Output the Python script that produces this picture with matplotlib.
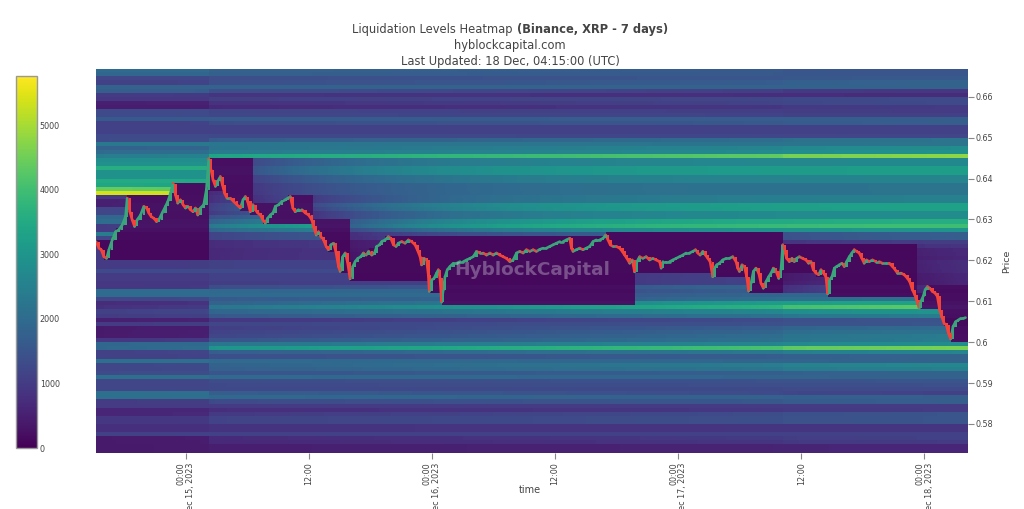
import numpy as np
import matplotlib
matplotlib.use("Agg")
import matplotlib.pyplot as plt
from matplotlib.colors import Normalize
from matplotlib.collections import LineCollection
from datetime import datetime, timedelta

# ---------------- data ----------------
# candle times (hours after 2023-12-15 00:00 UTC) and closes, XRP/USDT
price_hours = [
    -8.75, -8.46, -8.24, -7.98, -7.72, -7.49, -7.17, -6.84, -6.52, -6.19,
    -5.87, -5.71, -5.45, -5.22, -4.99, -4.74, -4.41, -4.09, -3.82, -3.60,
    -3.37, -3.11, -2.85, -2.63, -2.30, -1.98, -1.75, -1.49, -1.24, -1.00,
    -0.78, -0.52, -0.26, -0.03, 0.19, 0.46, 0.71, 0.94, 1.17, 1.43,
    1.75, 2.01, 2.24, 2.46, 2.66, 2.89, 3.11, 3.37, 3.57, 3.79,
    4.02, 4.35, 4.67, 4.99, 5.32, 5.58, 5.81, 6.03, 6.29, 6.55,
    6.78, 7.01, 7.27, 7.52, 7.75, 7.98, 8.24, 8.50, 8.73, 9.05,
    9.37, 9.70, 9.95, 10.19, 10.44, 10.67, 11.00, 11.32, 11.65, 11.97,
    12.29, 12.45, 12.72, 12.94, 13.17, 13.43, 13.69, 13.91, 14.14, 14.40,
    14.63, 14.89, 15.05, 15.30, 15.54, 15.76, 16.02, 16.28, 16.51, 16.77,
    17.06, 17.32, 17.58, 17.83, 18.13, 18.39, 18.61, 18.88, 19.10, 19.43,
    19.75, 19.98, 20.24, 20.50, 20.72, 21.05, 21.38, 21.70, 22.02, 22.35,
    22.57, 22.84, 22.99, 23.22, 23.48, 23.64, 23.74, 23.97, 24.20, 24.45,
    24.62, 24.78, 24.94, 25.10, 25.27, 25.49, 25.75, 26.08, 26.40, 26.73,
    27.05, 27.37, 27.70, 28.02, 28.34, 28.67, 28.99, 29.32, 29.65, 29.97,
    30.29, 30.62, 30.94, 31.26, 31.59, 31.91, 32.24, 32.56, 32.89, 33.21,
    33.54, 33.86, 34.18, 34.51, 34.83, 35.15, 35.48, 35.80, 36.13, 36.46,
    36.78, 37.10, 37.43, 37.59, 37.75, 38.07, 38.40, 38.72, 39.05, 39.37,
    39.70, 40.02, 40.35, 40.67, 40.93, 41.16, 41.38, 41.64, 41.97, 42.29,
    42.55, 42.78, 43.00, 43.27, 43.52, 43.75, 43.98, 44.24, 44.56, 44.88,
    45.21, 45.53, 45.86, 46.19, 46.34, 46.51, 46.83, 47.16, 47.48, 47.80,
    48.13, 48.45, 48.77, 49.10, 49.43, 49.69, 49.91, 50.14, 50.40, 50.66,
    50.89, 51.11, 51.37, 51.53, 51.76, 52.02, 52.34, 52.67, 52.99, 53.32,
    53.64, 53.80, 53.97, 54.22, 54.45, 54.68, 54.87, 55.10, 55.33, 55.58,
    55.85, 56.07, 56.30, 56.56, 56.82, 57.05, 57.28, 57.54, 57.80, 58.02,
    58.19, 58.35, 58.57, 58.84, 59.09, 59.32, 59.55, 59.81, 60.13, 60.46,
    60.71, 60.94, 61.17, 61.43, 61.69, 61.92, 62.15, 62.40, 62.57, 62.73,
    62.99, 63.22, 63.45, 63.70, 63.96, 64.19, 64.42, 64.68, 64.93, 65.16,
    65.39, 65.65, 65.90, 66.13, 66.36, 66.62, 66.94, 67.26, 67.59, 67.91,
    68.24, 68.57, 68.89, 69.15, 69.37, 69.70, 70.03, 70.35, 70.57, 70.83,
    71.06, 71.25, 71.49, 71.64, 71.88, 72.07, 72.30, 72.52, 72.78, 73.04,
    73.26, 73.49, 73.68, 73.92, 74.14, 74.34, 74.56, 74.79, 75.04, 75.30,
    75.53, 75.76, 76.01,
]
price_close = [
    0.6246, 0.6230, 0.6226, 0.6209, 0.6205, 0.6226, 0.6250, 0.6270, 0.6275, 0.6287,
    0.6307, 0.6352, 0.6319, 0.6299, 0.6283, 0.6299, 0.6311, 0.6332, 0.6328, 0.6316,
    0.6307, 0.6303, 0.6295, 0.6299, 0.6316, 0.6332, 0.6344, 0.6364, 0.6388, 0.6360,
    0.6340, 0.6348, 0.6336, 0.6328, 0.6332, 0.6324, 0.6319, 0.6328, 0.6311, 0.6328,
    0.6336, 0.6373, 0.6449, 0.6421, 0.6397, 0.6381, 0.6393, 0.6405, 0.6385, 0.6364,
    0.6352, 0.6352, 0.6344, 0.6336, 0.6328, 0.6348, 0.6356, 0.6344, 0.6319, 0.6336,
    0.6324, 0.6316, 0.6311, 0.6299, 0.6291, 0.6303, 0.6311, 0.6316, 0.6332, 0.6336,
    0.6344, 0.6348, 0.6352, 0.6356, 0.6328, 0.6319, 0.6324, 0.6324, 0.6316, 0.6311,
    0.6299, 0.6283, 0.6262, 0.6270, 0.6258, 0.6250, 0.6234, 0.6226, 0.6238, 0.6242,
    0.6222, 0.6185, 0.6173, 0.6209, 0.6218, 0.6197, 0.6155, 0.6185, 0.6197, 0.6205,
    0.6209, 0.6218, 0.6213, 0.6222, 0.6213, 0.6218, 0.6234, 0.6238, 0.6246, 0.6250,
    0.6258, 0.6254, 0.6238, 0.6234, 0.6242, 0.6246, 0.6242, 0.6250, 0.6246, 0.6238,
    0.6226, 0.6209, 0.6189, 0.6205, 0.6201, 0.6165, 0.6124, 0.6152, 0.6156, 0.6169,
    0.6177, 0.6156, 0.6098, 0.6128, 0.6160, 0.6177, 0.6185, 0.6193, 0.6193, 0.6197,
    0.6197, 0.6201, 0.6205, 0.6209, 0.6222, 0.6218, 0.6218, 0.6213, 0.6218, 0.6213,
    0.6218, 0.6213, 0.6209, 0.6205, 0.6197, 0.6201, 0.6218, 0.6222, 0.6218, 0.6226,
    0.6222, 0.6226, 0.6222, 0.6227, 0.6230, 0.6230, 0.6234, 0.6238, 0.6242, 0.6246,
    0.6246, 0.6250, 0.6254, 0.6230, 0.6222, 0.6226, 0.6230, 0.6226, 0.6230, 0.6234,
    0.6246, 0.6250, 0.6250, 0.6254, 0.6262, 0.6250, 0.6238, 0.6234, 0.6234, 0.6230,
    0.6222, 0.6213, 0.6205, 0.6193, 0.6201, 0.6172, 0.6197, 0.6209, 0.6205, 0.6209,
    0.6201, 0.6205, 0.6201, 0.6197, 0.6181, 0.6197, 0.6197, 0.6197, 0.6201, 0.6205,
    0.6209, 0.6213, 0.6218, 0.6218, 0.6222, 0.6226, 0.6218, 0.6213, 0.6222, 0.6213,
    0.6205, 0.6197, 0.6160, 0.6181, 0.6189, 0.6193, 0.6201, 0.6205, 0.6205, 0.6209,
    0.6197, 0.6181, 0.6173, 0.6189, 0.6185, 0.6160, 0.6125, 0.6144, 0.6173, 0.6181,
    0.6169, 0.6144, 0.6132, 0.6148, 0.6160, 0.6169, 0.6181, 0.6173, 0.6156, 0.6177,
    0.6238, 0.6226, 0.6205, 0.6197, 0.6205, 0.6197, 0.6205, 0.6209, 0.6205, 0.6201,
    0.6193, 0.6197, 0.6177, 0.6169, 0.6165, 0.6177, 0.6169, 0.6160, 0.6118, 0.6152,
    0.6160, 0.6181, 0.6185, 0.6189, 0.6193, 0.6185, 0.6197, 0.6209, 0.6218, 0.6226,
    0.6222, 0.6218, 0.6205, 0.6193, 0.6201, 0.6197, 0.6201, 0.6197, 0.6197, 0.6193,
    0.6193, 0.6193, 0.6185, 0.6177, 0.6169, 0.6169, 0.6165, 0.6156, 0.6148, 0.6128,
    0.6116, 0.6103, 0.6083, 0.6099, 0.6112, 0.6128, 0.6136, 0.6132, 0.6124, 0.6120,
    0.6112, 0.6079, 0.6063, 0.6046, 0.6042, 0.6022, 0.6008, 0.6038, 0.6050, 0.6054,
    0.6058, 0.6058, 0.6060,
]

# liquidation price levels: 0.001-wide rows from 0.573 upwards (bottom -> top)
level_bottom = 0.573
level_step = 0.001
# level intensity at the left edge of the window
levels_left = [
    400, 400, 400, 400, 1100, 800, 800, 900, 900, 600,          # 0.5735 ..
    600, 1000, 1000, 2100, 2100, 1200, 1200, 1200, 2100, 1300,  # 0.5835 ..
    1200, 1200, 2100, 1100, 1100, 1900, 1900, 900, 400, 400,    # 0.5935 ..
    400, 1000, 500, 1000, 1100, 800, 700, 1200, 2000, 2000,     # 0.6035 ..
    900, 900, 1000, 1000, 1300, 1000, 1000, 1000, 1000, 1000,   # 0.6135 ..
    1000, 1000, 1200, 2400, 1000, 1000, 2000, 1900, 1200, 1200, # 0.6235 ..
    500, 500, 900, 5400, 4400, 3400, 3500, 2900, 2900, 3600,    # 0.6335 ..
    2900, 2800, 2400, 2000, 1800, 2300, 1300, 1300, 1100, 1100, # 0.6435 ..
    1100, 1600, 1300, 1300, 450, 500, 900, 1000, 1700, 1800,    # 0.6535 ..
    1100, 1200, 1900, 2000,                                     # 0.6635 ..
]
# level intensity at the right edge of the window (18 Dec, 04:15)
levels_right = [
    600, 600, 1000, 1100, 1100, 900, 900, 1500, 1500, 1500,     # 0.5735 ..
    1000, 1000, 1700, 1700, 1100, 1300, 1400, 1500, 1800, 1800, # 0.5835 ..
    2500, 2700, 1800, 1800, 2600, 4600, 2800, 2400, 2400, 2200, # 0.5935 ..
    2000, 1500, 1500, 2400, 3000, 4400, 3400, 2200, 2000, 1800, # 0.6035 ..
    2000, 1200, 1200, 1200, 1300, 1300, 1300, 1000, 1000, 1000, # 0.6135 ..
    1100, 1100, 1800, 1800, 3000, 4000, 3600, 2800, 2800, 3300, # 0.6235 ..
    3300, 2500, 2500, 2200, 2200, 2200, 2600, 2600, 3200, 3200, # 0.6335 ..
    2700, 2700, 4800, 2900, 2800, 2200, 2200, 1200, 1100, 1100, # 0.6435 ..
    1700, 1700, 1100, 1000, 1000, 1300, 1300, 700, 900, 1800,   # 0.6535 ..
    1800, 1600, 1500, 1500,                                     # 0.6635 ..
]

# times (hours) at which the heatmap recalculates the cleared zones
reset_up_hours = [-8.75, 6.3, 12.4, 16.0, 58.1, 71.2]
reset_down_hours = [-8.75, 2.2, 43.6, 58.1]
# share of the right-edge level profile reached at each time (left/right of a jump)
blend_hours = [-8.75, 2.2, 2.2, 58.1, 58.1, 76.25]
blend_weights = [0.0, 0.05, 0.4, 0.82, 0.9, 1.0]

time_start_h = -8.75
time_end_h = 76.25
time_tick_hours = [0, 12, 24, 36, 48, 60, 72]
price_ticks = [0.58, 0.59, 0.60, 0.61, 0.62, 0.63, 0.64, 0.65, 0.66]
colorbar_ticks = [0, 1000, 2000, 3000, 4000, 5000]
color_max = 5760
price_min, price_max = 0.5729, 0.6668


def blend_at(t):
    for i in range(len(blend_hours) - 1):
        a, b = blend_hours[i], blend_hours[i + 1]
        if a <= t < b and b > a:
            return blend_weights[i] + (blend_weights[i + 1] - blend_weights[i]) * (t - a) / (b - a)
    return blend_weights[-1]


# ---------------- heatmap computation ----------------
ph = np.array(price_hours, float)
pc = np.array(price_close, float)
n = len(ph)
left = np.array(levels_left, float)
right = np.array(levels_right, float)
nb = len(left)
edges = level_bottom + level_step * np.arange(nb + 1)
centers = 0.5 * (edges[:-1] + edges[1:])
opens = np.r_[pc[0], pc[:-1]]
lo = np.minimum(opens, pc)
hi = np.maximum(opens, pc)

last_cross = np.full(nb, -np.inf)
Z = np.empty((nb, n))
for k in range(n):
    t = ph[k]
    crossed = (edges[1:] > lo[k]) & (edges[:-1] <= hi[k])
    last_cross[crossed] = t
    r_up = max(r for r in reset_up_hours if r <= t + 1e-9)
    r_dn = max(r for r in reset_down_hours if r <= t + 1e-9)
    w = blend_at(t)
    fresh = left + (right - left) * w
    never = np.isinf(last_cross)
    age = np.where(never, 0.0, t - np.where(never, 0.0, last_cross))
    regrow = right * (1 - 0.7 * np.exp(-age / 14.0))
    val = np.where(never, fresh, regrow)
    above = centers > pc[k]
    dark = np.where(above, last_cross >= r_up, last_cross >= r_dn)
    val = np.where(dark, 60 + 0.06 * right, val)
    Z[:, k] = val

xedges = np.r_[ph, time_end_h]

# ---------------- figure ----------------
W, H = 1024, 509
fig = plt.figure(figsize=(W / 100, H / 100), dpi=100)
fig.patch.set_facecolor("white")
ax = fig.add_axes([96 / W, 1 - 453 / H, 872 / W, 384 / H])
cax = fig.add_axes([16 / W, 1 - 448 / H, 21 / W, 372 / H])

norm = Normalize(0, color_max)
mesh = ax.pcolormesh(xedges, edges, Z, cmap="viridis", norm=norm,
                     shading="flat", zorder=1)

# candles
up = pc >= opens
green, red = "#3aa57a", "#f2433a"
colors = np.where(up, green, red)
segs = [[(ph[k - 1], pc[k - 1]), (ph[k], pc[k])] for k in range(1, n)]
ax.add_collection(LineCollection(segs, colors=colors[1:], linewidths=1.9,
                                 zorder=3, capstyle="round"))
body = pc - opens
min_h = 0.00015
body = np.where(np.abs(body) < min_h, np.where(up, min_h, -min_h), body)
ax.bar(ph, body, bottom=opens, width=0.24, color=colors, linewidth=0,
       align="center", zorder=4)

ax.set_xlim(time_start_h, time_end_h)
ax.set_ylim(price_min, price_max)

# axes styling
for s in ax.spines.values():
    s.set_visible(False)
ax.yaxis.tick_right()
ax.yaxis.set_label_position("right")
ax.set_yticks(price_ticks)
ax.set_yticklabels([f"{v:g}" for v in price_ticks])
ax.tick_params(axis="y", length=4, width=0.8, color="#888", pad=1.5,
               labelsize=5.8, labelcolor="#444")
base_dt = datetime(2023, 12, 15)
xt_labels = []
for h in time_tick_hours:
    d = base_dt + timedelta(hours=h)
    if d.hour == 0:
        xt_labels.append(f"{d:%H:%M}\n{d:%b} {d.day}, {d.year}")
    else:
        xt_labels.append(f"{d:%H:%M}")
ax.set_xticks(time_tick_hours)
ax.set_xticklabels(xt_labels, rotation=90, va="top", ha="center",
                   multialignment="right", linespacing=1.05)
ax.tick_params(axis="x", length=4, width=0.8, color="#888", pad=3,
               labelsize=5.8, labelcolor="#444")
ax.set_xlabel("time", fontsize=7, color="#444")
ax.xaxis.set_label_coords(0.497, -0.083)
ax.set_ylabel("Price", fontsize=6.8, color="#444", labelpad=6)

# colorbar
cb = fig.colorbar(mesh, cax=cax, ticks=colorbar_ticks)
cb.outline.set_edgecolor("#999")
cb.outline.set_linewidth(1.0)
cax.tick_params(length=0, pad=2, labelsize=5.8, labelcolor="#444")

# watermark
fig.text(532 / W, 1 - 270 / H, "HyblockCapital", fontsize=13.3,
         fontweight="bold", color="#d9d9e6", alpha=0.35,
         ha="center", va="center", zorder=10)

# title
cx = 510 / W
tcol = "#444"
tfs = 8.3
fig.text(cx, 1 - 46 / H, "hyblockcapital.com", fontsize=tfs, color=tcol,
         ha="center", va="center")
fig.text(cx, 1 - 61 / H, "Last Updated: 18 Dec, 04:15:00 (UTC)", fontsize=tfs,
         color=tcol, ha="center", va="center")
t1 = fig.text(0, 1 - 30 / H, "Liquidation Levels Heatmap", fontsize=tfs,
              color=tcol, ha="left", va="center")
t2 = fig.text(0, 1 - 30 / H, "(Binance, XRP - 7 days)", fontsize=tfs,
              color=tcol, ha="left", va="center", fontweight="bold")
r = fig.canvas.get_renderer()
w1 = t1.get_window_extent(r).width
w2 = t2.get_window_extent(r).width
gap = tfs * 100 / 72 * 0.32
total = w1 + gap + w2
x0 = cx * W - total / 2
t1.set_x(x0 / W)
t2.set_x((x0 + w1 + gap) / W)

fig.savefig("out.png", dpi=100, facecolor="white")
